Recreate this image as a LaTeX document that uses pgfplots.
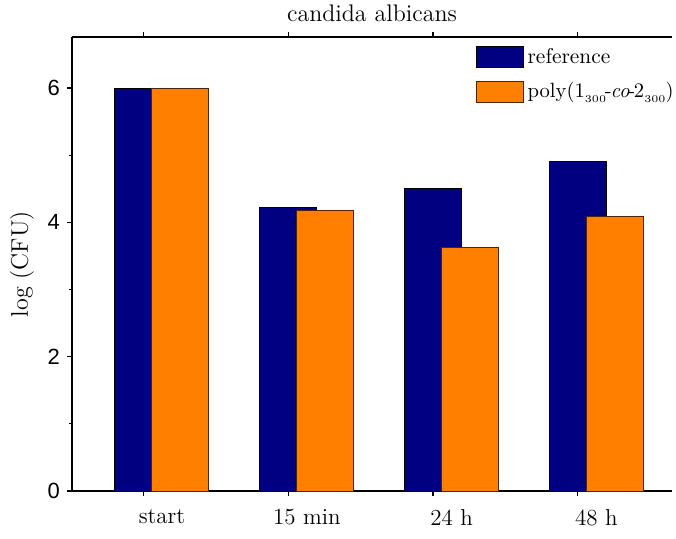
\documentclass[border=0pt]{standalone}
\usepackage{pgfplots}
\pgfplotsset{compat=1.18}
\usepackage{fontspec}
\newfontfamily\ticksans{Liberation Sans}
\definecolor{navyb}{RGB}{0,0,128}
\definecolor{orng}{RGB}{255,128,0}
\newcommand{\sub}[1]{\raisebox{-2.5pt}{\fontsize{5.2}{6}\selectfont #1}}
\begin{document}
\begin{tikzpicture}
\begin{axis}[
  scale only axis,
  width=300pt, height=227pt,
  xmin=-0.493, xmax=3.65,
  ymin=0, ymax=6.76,
  axis x line*=box, axis y line*=left,
  xtick={0,1,2,3},
  xticklabels={start,15 min,24 h,48 h},
  xticklabel style={xshift=9.3pt, yshift=-3pt, font=\fontsize{11.5}{13}\selectfont},
  ytick={0,2,4,6},
  minor ytick={1,3,5},
  yticklabel style={font=\ticksans\fontsize{11}{13}\selectfont},
  /pgf/number format/assume math mode=true,
  tick align=outside,
  major tick length=2.5pt,
  minor tick length=1.6pt,
  ylabel={log (CFU)},
  ylabel style={font=\fontsize{12}{13}\selectfont},
  title={candida albicans},
  title style={font=\fontsize{12}{13}\selectfont, yshift=-2pt},
  axis line style={line width=0.8pt},
  every tick/.style={black, line width=0.6pt},
  legend style={draw=none, fill=none, at={(0.672,0.985)}, anchor=north west,
    font=\fontsize{10.7}{13}\selectfont, row sep=4pt, inner sep=0pt,
    nodes={inner xsep=2pt}},
  legend cell align=left,
  legend image code/.code={\draw[#1] (0pt,-5.25pt) rectangle (23.5pt,5.25pt);},
  clip=false,
]
\addplot[ybar, bar width=0.393, bar shift=0pt, fill=navyb, draw=black, line width=0.5pt]
  coordinates {(0,6.0) (1,4.22) (2,4.50) (3,4.91)};
\addlegendentry{reference}
\addplot[ybar, bar width=0.393, bar shift=0pt, fill=orng, draw=black!70!orng, line width=0.5pt]
  coordinates {(0.255,6.0) (1.255,4.18) (2.255,3.62) (3.255,4.09)};
\addlegendentry{\fontsize{10.3}{13}\selectfont poly(1\sub{300}\kern-0.6pt-\kern-0.6pt\textit{co}\kern-0.6pt-\kern-0.6pt2\sub{300})}
\end{axis}
\pgfresetboundingbox
\useasboundingbox ([xshift=-36pt,yshift=-23.5pt]current axis.south west) rectangle ([xshift=2pt,yshift=18.5pt]current axis.north east);
\end{tikzpicture}
\end{document}
